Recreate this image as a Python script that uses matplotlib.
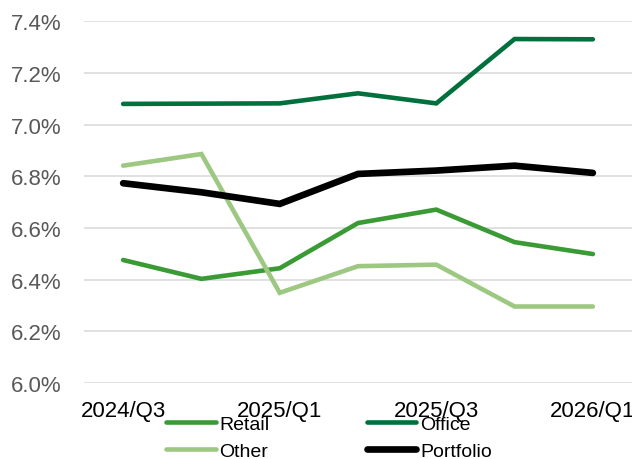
import matplotlib.pyplot as plt
from matplotlib.ticker import FuncFormatter

plt.rcParams['font.family'] = ['Liberation Sans', 'DejaVu Sans']

# quarterly cap rates (%)
quarters = ["2024/Q3", "2024/Q4", "2025/Q1", "2025/Q2", "2025/Q3", "2025/Q4", "2026/Q1"]
retail = [6.476, 6.403, 6.444, 6.619, 6.671, 6.545, 6.499]
office = [7.080, 7.081, 7.082, 7.121, 7.082, 7.331, 7.330]
other = [6.841, 6.886, 6.349, 6.452, 6.458, 6.296, 6.296]
portfolio = [6.773, 6.738, 6.693, 6.809, 6.822, 6.841, 6.813]

series = [
    ("Retail", retail, "#3a9b35", 3.3),
    ("Office", office, "#00703c", 3.3),
    ("Other", other, "#9dc882", 3.3),
    ("Portfolio", portfolio, "#000000", 4.8),
]

fig = plt.figure(figsize=(6.32, 4.60), dpi=100, facecolor='white')
ax = fig.add_axes([84 / 632, 1 - 384 / 460, 1 - 84 / 632, (384 - 22.2) / 460])

x = list(range(len(quarters)))
lines = {}
for name, vals, color, lw in series:
    lines[name], = ax.plot(x, vals, color=color, lw=lw, label=name,
                           solid_capstyle='round', solid_joinstyle='miter', clip_on=False)

ax.set_xlim(-0.5, len(quarters) - 0.5)
ax.set_ylim(6.0, 7.4)
ax.set_yticks([6.0, 6.2, 6.4, 6.6, 6.8, 7.0, 7.2, 7.4])
ax.yaxis.set_major_formatter(FuncFormatter(lambda v, p: f"{v:.1f}%"))
ax.set_xticks(x[::2])
ax.set_xticklabels(quarters[::2])

ax.grid(axis='y', color='#d9d9d9', lw=1.1)
ax.set_axisbelow(True)
for s in ax.spines.values():
    s.set_visible(False)
ax.tick_params(axis='y', length=0, pad=16, labelsize=16, labelcolor='#595959')
ax.tick_params(axis='x', length=0, pad=12, labelsize=16, labelcolor='#000000')

# legend fills column-wise, so order gives rows Retail/Office, Other/Portfolio
order = ["Retail", "Other", "Office", "Portfolio"]
fig.legend([lines[n] for n in order], order,
           loc='upper left', bbox_to_anchor=(166 / 632, 1 - 416 / 460),
           bbox_transform=fig.transFigure, ncol=2, frameon=False,
           fontsize=14, handlelength=2.55, handletextpad=0.2,
           columnspacing=5.0, labelspacing=0.5, borderpad=0, borderaxespad=0)

fig.savefig('out.png', dpi=100, facecolor='white')
